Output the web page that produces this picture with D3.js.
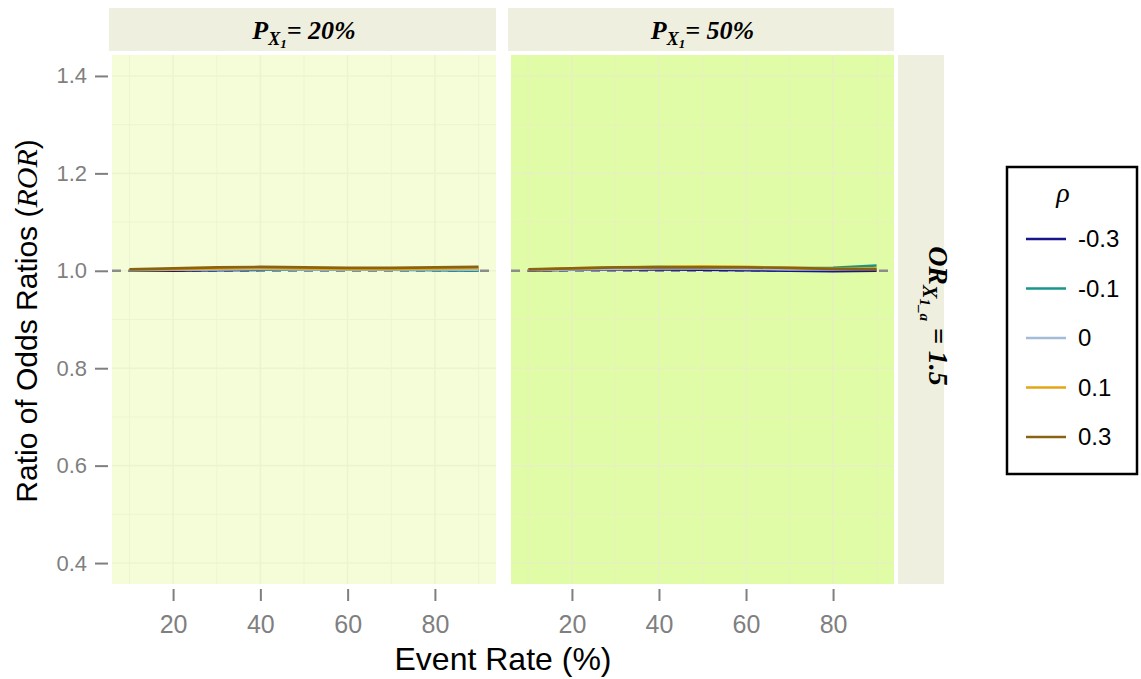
<!DOCTYPE html>
<html>
<head>
<meta charset="utf-8">
<script src="https://cdn.jsdelivr.net/npm/d3@7"></script>
<style>
  body { margin: 0; background: #fff; }
  text { font-family: "Liberation Sans", Arial, sans-serif; }
  .serif { font-family: "Liberation Serif", "Times New Roman", serif; }
</style>
</head>
<body>
<div id="chart"></div>
<script>
// event rates (%) on x
const eventRates = [10, 20, 30, 40, 50, 60, 70, 80, 90];
const rhoLevels = ["-0.3", "-0.1", "0", "0.1", "0.3"];
const rhoColors = ["#16168a", "#17968a", "#a5bcd8", "#e5a514", "#8a6312"];
const panelLabels = ["20%", "50%"];
const xTicks = [20, 40, 60, 80];
const yTicks = [0.4, 0.6, 0.8, 1.0, 1.2, 1.4];

// ROR values, panel P=20%
const ror20_m03 = [1.000, 1.000, 1.001, 1.002, 1.002, 1.002, 1.002, 1.002, 1.001];
const ror20_m01 = [1.001, 1.002, 1.003, 1.003, 1.002, 1.002, 1.002, 1.001, 1.000];
const ror20_0   = [1.001, 1.002, 1.003, 1.004, 1.003, 1.003, 1.003, 1.003, 1.002];
const ror20_01  = [1.002, 1.003, 1.005, 1.006, 1.005, 1.004, 1.004, 1.005, 1.006];
const ror20_03  = [1.003, 1.005, 1.007, 1.008, 1.007, 1.006, 1.006, 1.007, 1.008];
// panel P=50%
const ror50_m03 = [1.000, 1.002, 1.003, 1.003, 1.002, 1.001, 1.000, 0.999, 1.000];
const ror50_m01 = [1.002, 1.004, 1.006, 1.008, 1.007, 1.006, 1.005, 1.006, 1.011];
const ror50_0   = [1.001, 1.003, 1.004, 1.005, 1.005, 1.004, 1.003, 1.003, 1.004];
const ror50_01  = [1.002, 1.005, 1.007, 1.008, 1.009, 1.008, 1.006, 1.004, 1.005];
const ror50_03  = [1.003, 1.005, 1.007, 1.007, 1.007, 1.007, 1.006, 1.004, 1.003];

const panelData = [
    [ror20_m03, ror20_m01, ror20_0, ror20_01, ror20_03],
    [ror50_m03, ror50_m01, ror50_0, ror50_01, ror50_03]
];

const width = 1141, height = 679;
const panels = [
    { left: 112, right: 496, bg: "#f4fdd8", grid: "#ecf3d0" },
    { left: 511, right: 894, bg: "#e0fca6", grid: "#e6f2bd" }
];
const plotTop = 55, plotBottom = 584;

const svg = d3.select("#chart").append("svg")
    .attr("width", width)
    .attr("height", height);

const y = d3.scaleLinear()
    .domain([0.357, 1.443])
    .range([plotBottom, plotTop]);

const color = d3.scaleOrdinal().domain(rhoLevels).range(rhoColors);

panels.forEach((p, i) => {
    const x = d3.scaleLinear().domain([6, 94]).range([p.left, p.right]);
    const g = svg.append("g");

    g.append("rect")
        .attr("x", p.left).attr("y", plotTop)
        .attr("width", p.right - p.left).attr("height", plotBottom - plotTop)
        .attr("fill", p.bg);

    // grid lines (minor + major)
    const xGrid = d3.range(10, 91, 10);
    const yGrid = d3.range(0.4, 1.41, 0.1);
    g.selectAll(".vg").data(xGrid).join("line")
        .attr("x1", d => x(d)).attr("x2", d => x(d))
        .attr("y1", plotTop).attr("y2", plotBottom)
        .attr("stroke", p.grid)
        .attr("stroke-width", d => d % 20 === 0 ? 1.6 : 0.9);
    g.selectAll(".hg").data(yGrid).join("line")
        .attr("x1", p.left).attr("x2", p.right)
        .attr("y1", d => y(d)).attr("y2", d => y(d))
        .attr("stroke", p.grid)
        .attr("stroke-width", (d, j) => j % 2 === 0 ? 1.6 : 0.9);

    // reference line
    g.append("line")
        .attr("x1", p.left).attr("x2", p.right)
        .attr("y1", y(1)).attr("y2", y(1))
        .attr("stroke", "#8c8c8c")
        .attr("stroke-width", 2.5)
        .attr("stroke-dasharray", "9,7");

    const line = d3.line()
        .x((d, j) => x(eventRates[j]))
        .y(d => y(d));

    panelData[i].forEach((vals, k) => {
        g.append("path")
            .datum(vals)
            .attr("fill", "none")
            .attr("stroke", color(rhoLevels[k]))
            .attr("stroke-width", 2.6)
            .attr("d", line);
    });

    // top strip
    g.append("rect")
        .attr("x", p.left - 3).attr("y", 8)
        .attr("width", p.right - p.left + 3).attr("height", 43)
        .attr("fill", "#efefdf");
    const st = g.append("text")
        .attr("class", "serif")
        .attr("x", (p.left + p.right) / 2)
        .attr("y", 39)
        .attr("text-anchor", "middle")
        .style("font-size", "26px")
        .style("font-weight", "bold")
        .style("font-style", "italic");
    st.append("tspan").text("P");
    st.append("tspan").attr("dy", 6).style("font-size", "18px").text("X");
    st.append("tspan").attr("dy", 3).style("font-size", "13px").text("1");
    st.append("tspan").attr("dy", -9).text("= " + panelLabels[i]);

    // x axis
    const xAxis = g.append("g")
        .attr("transform", `translate(0,${plotBottom + 5})`)
        .call(d3.axisBottom(x).tickValues(xTicks).tickSize(12).tickPadding(14));
    xAxis.select(".domain").remove();
    xAxis.selectAll("line").attr("stroke", "#7f7f7f").attr("stroke-width", 2);
    xAxis.selectAll("text")
        .attr("fill", "#7f7f7f")
        .style("font-size", "25px")
        .style("font-family", "'Liberation Sans', Arial, sans-serif");
});

// y axis
const yAxis = svg.append("g")
    .attr("transform", `translate(${panels[0].left - 4},0)`)
    .call(d3.axisLeft(y).tickValues(yTicks).tickFormat(d3.format(".1f")).tickSize(13).tickPadding(8));
yAxis.select(".domain").remove();
yAxis.selectAll("line").attr("stroke", "#7f7f7f").attr("stroke-width", 2);
yAxis.selectAll("text")
    .attr("fill", "#7f7f7f")
    .style("font-size", "22px")
    .style("font-family", "'Liberation Sans', Arial, sans-serif");

// right strip
svg.append("rect")
    .attr("x", 898).attr("y", plotTop)
    .attr("width", 46).attr("height", plotBottom - plotTop)
    .attr("fill", "#efefdf");
const rs = svg.append("text")
    .attr("class", "serif")
    .attr("transform", `translate(929,316) rotate(90)`)
    .attr("text-anchor", "middle")
    .style("font-size", "28px")
    .style("font-weight", "bold")
    .style("font-style", "italic");
rs.append("tspan").text("OR");
rs.append("tspan").attr("dy", 6).style("font-size", "20px").text("X");
rs.append("tspan").attr("dy", 3).style("font-size", "15px").text("1_a");
rs.append("tspan").attr("dy", -9).text(" = 1.5");

// axis titles
const yt = svg.append("text")
    .attr("transform", `translate(37,321) rotate(-90)`)
    .attr("text-anchor", "middle")
    .style("font-size", "30px")
    .attr("fill", "#000");
yt.append("tspan").text("Ratio of Odds Ratios (");
yt.append("tspan").attr("class", "serif").style("font-style", "italic").text("ROR");
yt.append("tspan").text(")");

svg.append("text")
    .attr("x", (panels[0].left + panels[1].right) / 2)
    .attr("y", 670)
    .attr("text-anchor", "middle")
    .style("font-size", "32px")
    .attr("fill", "#000")
    .text("Event Rate (%)");

// legend
const legend = svg.append("g");
legend.append("rect")
    .attr("x", 1007).attr("y", 167)
    .attr("width", 130).attr("height", 307)
    .attr("fill", "#fff")
    .attr("stroke", "#000")
    .attr("stroke-width", 2.5);
legend.append("text")
    .attr("class", "serif")
    .attr("x", 1063).attr("y", 202)
    .attr("text-anchor", "middle")
    .style("font-size", "28px")
    .style("font-style", "italic")
    .text("ρ");

const ly = d3.scalePoint().domain(rhoLevels).range([239, 437]);
const item = legend.selectAll(".item").data(rhoLevels).join("g")
    .attr("transform", d => `translate(0,${ly(d)})`);
item.append("line")
    .attr("x1", 1026).attr("x2", 1066)
    .attr("stroke", d => color(d))
    .attr("stroke-width", 2.5);
item.append("text")
    .attr("x", 1078).attr("y", 0)
    .attr("dy", "0.35em")
    .style("font-size", "24px")
    .attr("fill", "#000")
    .text(d => d);
</script>
</body>
</html>
